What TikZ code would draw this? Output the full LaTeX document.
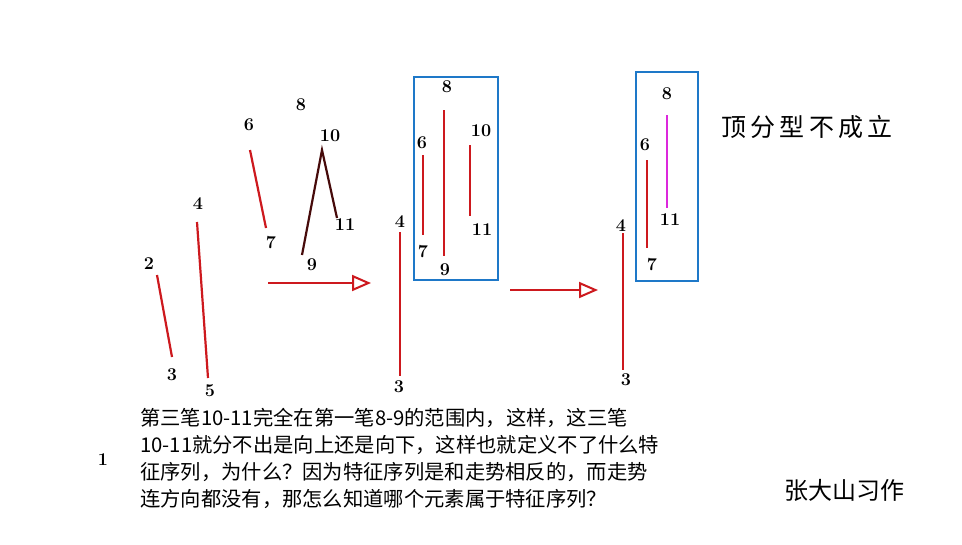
\documentclass[tikz,border=0pt]{standalone}
\usepackage{fontspec}
\newfontfamily\cjk{Noto Sans CJK SC}
\usetikzlibrary{arrows.meta}
\definecolor{segred}{RGB}{205,25,30}
\definecolor{segdark}{RGB}{70,10,10}
\definecolor{boxblue}{RGB}{30,120,200}
\definecolor{segmag}{RGB}{220,40,220}
\tikzset{
  num/.style={inner sep=0pt, font=\fontsize{18}{18}\selectfont\bfseries},
  seg/.style={segred, line width=2.2pt},
  darkseg/.style={segdark, line width=2.2pt},
  magseg/.style={segmag, line width=2.2pt},
  bluebox/.style={draw=boxblue, line width=2.5pt},
  bigarrow/.style={segred, line width=2pt, -{Triangle[open, length=19pt, width=16pt, line width=2pt]}},
  cjktext/.style={inner sep=0pt, anchor=north west, align=left, font=\cjk\fontsize{20.3}{27}\selectfont},
}
\begin{document}
\begin{tikzpicture}[x=1pt,y=-1pt]
\useasboundingbox[fill=white] (0,0) rectangle (962,544);

% ---- panel 1 ----
\node[num] (n2) at (149,264) {2};
\node[num] (n3) at (172,375) {3};
\node[num] (n4) at (198,204) {4};
\node[num] (n5) at (210,391) {5};
\node[num] (n6) at (249,125) {6};
\node[num] (n7) at (271,243) {7};
\node[num] (n8) at (301,105) {8};
\node[num] (n10) at (330,136) {10};
\node[num] (n11) at (345,225) {11};
\node[num] (n9) at (312,265) {9};
\coordinate (a2) at (157,275); \coordinate (a3) at (172,357);
\coordinate (a4) at (197,222); \coordinate (a5) at (208,378);
\coordinate (a6) at (250,150); \coordinate (a7) at (266,228);
\coordinate (a9) at (302,255); \coordinate (a10) at (322,150); \coordinate (a11) at (337,218);
\draw[seg] (a2) -- (a3);
\draw[seg] (a4) -- (a5);
\draw[seg] (a6) -- (a7);
\draw[darkseg] (a9) -- (a10) -- (a11);
\coordinate (ar1s) at (268,283); \coordinate (ar1e) at (371,283);
\draw[bigarrow] (ar1s) -- (ar1e);

% ---- panel 2 ----
\node[num] (m4) at (400,222) {4};
\node[num] (m3) at (399,387) {3};
\coordinate (b4) at (400,232); \coordinate (b3) at (400,376);
\draw[seg] (b4) -- (b3);
\node[bluebox, minimum width=84pt, minimum height=203pt, inner sep=0pt] (box1) at (456,178.5) {};
\node[num] (m8) at (447,87) {8};
\node[num] (m9) at (445,270) {9};
\node[num] (m6) at (422,143) {6};
\node[num] (m7) at (423,252) {7};
\node[num] (m10) at (481,131) {10};
\node[num] (m11) at (482,230) {11};
\coordinate (b8) at (444,110); \coordinate (b9) at (444,256);
\coordinate (b6) at (423,155); \coordinate (b7) at (423,235);
\coordinate (b10) at (470,145); \coordinate (b11) at (470,216);
\draw[seg] (b8) -- (b9);
\draw[seg] (b6) -- (b7);
\draw[seg] (b10) -- (b11);
\coordinate (ar2s) at (510,290); \coordinate (ar2e) at (598,290);
\draw[bigarrow] (ar2s) -- (ar2e);

% ---- panel 3 ----
\node[num] (k4) at (621,226) {4};
\node[num] (k3) at (626,380) {3};
\coordinate (c4) at (623,233); \coordinate (c3) at (623,370);
\draw[seg] (c4) -- (c3);
\node[bluebox, minimum width=62pt, minimum height=209pt, inner sep=0pt] (box2) at (667,176.5) {};
\node[num] (k8) at (667,94) {8};
\node[num] (k11) at (670,220) {11};
\node[num] (k6) at (645,145) {6};
\node[num] (k7) at (652,265) {7};
\coordinate (c8) at (667,115); \coordinate (c11) at (667,208);
\coordinate (c6) at (647,160); \coordinate (c7) at (647,248);
\draw[magseg] (c8) -- (c11);
\draw[seg] (c6) -- (c7);

\node[inner sep=0pt, font=\cjk\fontsize{25}{25}\selectfont] (title) at (807,127) {顶\,分\,型\,不\,成\,立};

% ---- text ----
\node[num] (one) at (103,460) {1};
\node[cjktext] (desc) at (140,408) {第三笔10-11完全在第一笔8-9的范围内，这样，这三笔\\10-11就分不出是向上还是向下，这样也就定义不了什么特\\征序列，为什么？因为特征序列是和走势相反的，而走势\\连方向都没有，那怎么知道哪个元素属于特征序列？};
\node[inner sep=0pt, font=\cjk\fontsize{24}{24}\selectfont] (author) at (844,490) {张大山习作};
\end{tikzpicture}
\end{document}
